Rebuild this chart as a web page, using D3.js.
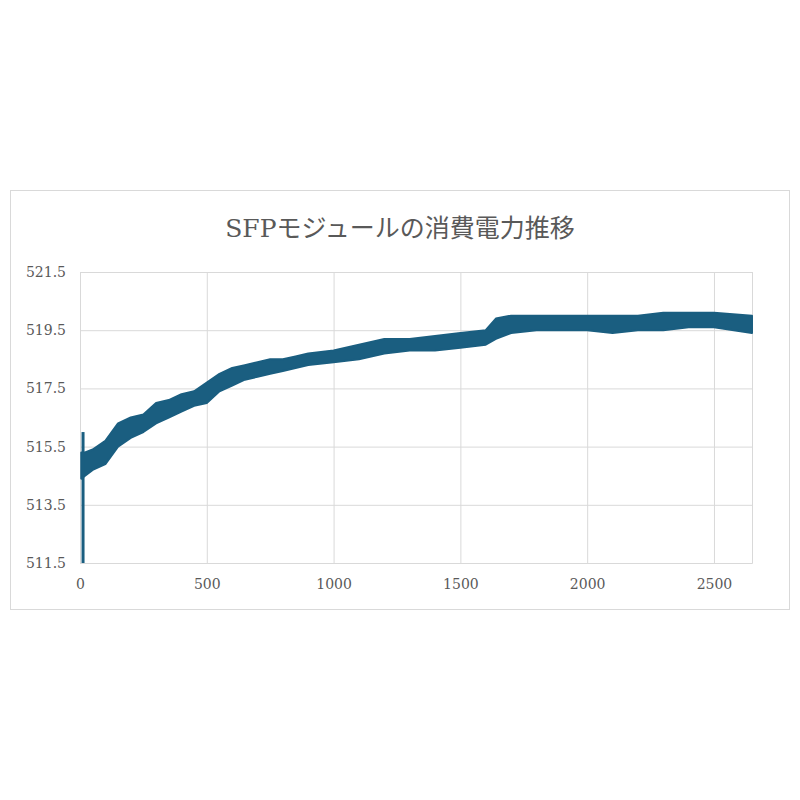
<!DOCTYPE html>
<html><head><meta charset="utf-8">
<script src="https://cdn.jsdelivr.net/npm/d3@7"></script>
<style>body{margin:0;background:#fff}</style>
</head><body>
<script>
// 読み取った帯の上限・下限 (ノイズの幅)
const xs  = [5,20,50,100,150,200,250,300,350,400,450,500,550,600,650,700,750,800,850,900,1000,1100,1200,1300,1400,1500,1600,1640,1700,1800,1900,2000,2100,2200,2300,2400,2500,2650];
const hi  = [515.3,515.3,515.4,515.7,516.3,516.5,516.6,517.0,517.1,517.3,517.4,517.7,518.0,518.2,518.3,518.4,518.5,518.5,518.6,518.7,518.8,519.0,519.2,519.2,519.3,519.4,519.5,519.9,520.0,520.0,520.0,520.0,520.0,520.0,520.1,520.1,520.1,520.0];
const lo  = [514.4,514.5,514.7,514.9,515.5,515.8,516.0,516.3,516.5,516.7,516.9,517.0,517.4,517.6,517.8,517.9,518.0,518.1,518.2,518.3,518.4,518.5,518.7,518.8,518.8,518.9,519.0,519.2,519.4,519.5,519.5,519.5,519.4,519.5,519.5,519.6,519.6,519.4];
// 立ち上がりのスパイク
const spikeX = [12,12];
const spikeY = [511.5,516.0];
const yTicks = [511.5,513.5,515.5,517.5,519.5,521.5];
const xTicks = [0,500,1000,1500,2000,2500];
const title = 'SFPモジュールの消費電力推移';

const svg = d3.select('body').append('svg').attr('width',800).attr('height',800);
svg.append('rect').attr('x',10.5).attr('y',190.5).attr('width',779).attr('height',419)
  .attr('fill','#fff').attr('stroke','#d9d9d9');

const margin = {left:80,top:272,right:50};
const innerW = 752-80, innerH = 563-272;
const x = d3.scaleLinear().domain([0,2650]).range([0,innerW]);
const y = d3.scaleLinear().domain([511.5,521.5]).range([innerH,0]);
const g = svg.append('g').attr('transform',`translate(${margin.left},${margin.top})`);
const font = '"DejaVu Serif","Noto Sans CJK JP",serif';

const yAxis = d3.axisLeft(y).tickValues(yTicks).tickFormat(d3.format('.1f')).tickSize(-innerW).tickPadding(14);
const yG = g.append('g').call(yAxis);
yG.select('.domain').remove();
yG.selectAll('.tick line').attr('stroke','#d9d9d9');
yG.selectAll('.tick text').attr('fill','#595959').attr('font-size',14).attr('font-family',font);

const xAxis = d3.axisBottom(x).tickValues(xTicks).tickFormat(d3.format('d')).tickSize(-innerH).tickPadding(16);
const xG = g.append('g').attr('transform',`translate(0,${innerH})`).call(xAxis);
xG.select('.domain').attr('stroke','#d9d9d9');
xG.selectAll('.tick line').attr('stroke','#d9d9d9');
xG.selectAll('.tick text').attr('fill','#595959').attr('font-size',14).attr('font-family',font);

const band = xs.map((v,i)=>({x:v,hi:hi[i],lo:lo[i]}));
const area = d3.area().x(d=>x(d.x)).y0(d=>y(d.lo)).y1(d=>y(d.hi));
g.append('path').datum(band).attr('d',area).attr('fill','#1a5e80')
  .attr('stroke','#1a5e80').attr('stroke-width',2).attr('stroke-linejoin','round');
g.append('path').datum(spikeX.map((v,i)=>[v,spikeY[i]]))
  .attr('d',d3.line().x(d=>x(d[0])).y(d=>y(d[1])))
  .attr('stroke','#1a5e80').attr('stroke-width',3).attr('fill','none');

svg.append('text').text(title).attr('x',400).attr('y',237).attr('text-anchor','middle')
  .attr('font-size',25).attr('fill','#595959').attr('font-family',font);
</script>
</body></html>
